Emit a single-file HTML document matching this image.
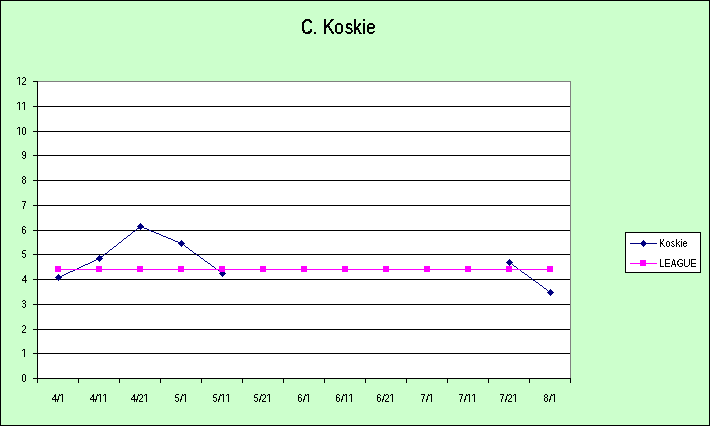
<!DOCTYPE html>
<html><head><meta charset="utf-8"><title>C. Koskie</title>
<style>
html,body{margin:0;padding:0;}
body{width:710px;height:426px;overflow:hidden;background:#ccffcc;font-family:"Liberation Sans",sans-serif;color:#000;position:relative;}
#chart{position:absolute;left:0;top:0;width:708px;height:424px;border:1px solid #000;background:#ccffcc;}
.abs{position:absolute;}
.lb{position:absolute;height:12px;font-size:10.67px;line-height:12px;white-space:nowrap;}
.lb span,#title span{position:absolute;top:0;transform-origin:0 0;}
#title{position:absolute;left:300px;top:15px;width:80px;height:24px;font-size:21.33px;line-height:24px;white-space:nowrap;}
#title span{transform:scaleX(0.82);filter:url(#thra);}
svg{position:absolute;left:0;top:0;}
.g0{transform:scaleX(0.72);filter:url(#thrb);}
.g1{transform:scaleX(1.0);filter:url(#thrd);clip-path:polygon(0 0,100% 0,100% 9px,4px 9px,4px 12px,3px 12px,3px 9px,0 9px);}
.g2{transform:scaleX(1.0);filter:url(#thrd);}
.g3{transform:scaleX(0.72);filter:url(#thrb);}
.g4{transform:scaleX(0.84);filter:url(#thrb);}
.g5{transform:scaleX(0.74);filter:url(#thrc);}
.g6{transform:scaleX(0.96);filter:url(#thrd);}
.g7{transform:scaleX(0.72);filter:url(#thrb);}
.g8{transform:scaleX(0.72);filter:url(#thrb);}
.g9{transform:scaleX(0.7);filter:url(#thrb);}
.gsl{transform:scaleX(0.96);filter:url(#thrb);}
.gK{transform:scaleX(0.88);filter:url(#thrd);}
.go{transform:scaleX(0.76);filter:url(#thrc);}
.gs{transform:scaleX(0.74);filter:url(#thrc);}
.gk{transform:scaleX(1.1);filter:url(#thrd);}
.gi{transform:scaleX(0.82);filter:url(#thrc);}
.ge{transform:scaleX(0.78);filter:url(#thrc);}
.gL{transform:scaleX(0.84);filter:url(#thrb);}
.gE{transform:scaleX(0.88);filter:url(#thra);}
.gA{transform:scaleX(0.74);filter:url(#thrc);}
.gG{transform:scaleX(0.82);filter:url(#thrb);}
.gU{transform:scaleX(0.96);filter:url(#thrd);}
</style></head><body>
<svg width="0" height="0"><defs><filter id="thra" x="0" y="0" width="100%" height="100%" color-interpolation-filters="sRGB"><feComponentTransfer><feFuncA type="discrete" tableValues="0 1 1 1"/></feComponentTransfer></filter><filter id="thrb" x="0" y="0" width="100%" height="100%" color-interpolation-filters="sRGB"><feComponentTransfer><feFuncA type="discrete" tableValues="0 1 1"/></feComponentTransfer></filter><filter id="thrc" x="0" y="0" width="100%" height="100%" color-interpolation-filters="sRGB"><feComponentTransfer><feFuncA type="discrete" tableValues="0 0 1 1 1"/></feComponentTransfer></filter><filter id="thrd" x="0" y="0" width="100%" height="100%" color-interpolation-filters="sRGB"><feComponentTransfer><feFuncA type="discrete" tableValues="0 1"/></feComponentTransfer></filter></defs></svg>
<div id="chart"></div>

<div class="abs" style="left:37px;top:81px;width:534px;height:298px;background:#808080;"></div>
<div class="abs" style="left:38px;top:82px;width:532px;height:296px;background:#fff;"></div>
<div class="abs" style="left:37px;top:353px;width:533px;height:1px;background:#000;"></div>
<div class="abs" style="left:37px;top:329px;width:533px;height:1px;background:#000;"></div>
<div class="abs" style="left:37px;top:304px;width:533px;height:1px;background:#000;"></div>
<div class="abs" style="left:37px;top:279px;width:533px;height:1px;background:#000;"></div>
<div class="abs" style="left:37px;top:254px;width:533px;height:1px;background:#000;"></div>
<div class="abs" style="left:37px;top:230px;width:533px;height:1px;background:#000;"></div>
<div class="abs" style="left:37px;top:205px;width:533px;height:1px;background:#000;"></div>
<div class="abs" style="left:37px;top:180px;width:533px;height:1px;background:#000;"></div>
<div class="abs" style="left:37px;top:155px;width:533px;height:1px;background:#000;"></div>
<div class="abs" style="left:37px;top:131px;width:533px;height:1px;background:#000;"></div>
<div class="abs" style="left:37px;top:106px;width:533px;height:1px;background:#000;"></div>
<div class="abs" style="left:37px;top:81px;width:1px;height:302px;background:#000;"></div>
<div class="abs" style="left:33px;top:378px;width:538px;height:1px;background:#000;"></div>
<div class="abs" style="left:33px;top:378px;width:4px;height:1px;background:#000;"></div>
<div class="lb" style="left:21px;top:372px;width:6px"><span class="g0" style="left:1px">0</span></div>
<div class="abs" style="left:33px;top:353px;width:4px;height:1px;background:#000;"></div>
<div class="lb" style="left:21px;top:347px;width:6px"><span class="g1" style="left:0px">1</span></div>
<div class="abs" style="left:33px;top:329px;width:4px;height:1px;background:#000;"></div>
<div class="lb" style="left:21px;top:323px;width:6px"><span class="g2" style="left:0px">2</span></div>
<div class="abs" style="left:33px;top:304px;width:4px;height:1px;background:#000;"></div>
<div class="lb" style="left:21px;top:298px;width:6px"><span class="g3" style="left:1px">3</span></div>
<div class="abs" style="left:33px;top:279px;width:4px;height:1px;background:#000;"></div>
<div class="lb" style="left:21px;top:273px;width:6px"><span class="g4" style="left:1px">4</span></div>
<div class="abs" style="left:33px;top:254px;width:4px;height:1px;background:#000;"></div>
<div class="lb" style="left:21px;top:248px;width:6px"><span class="g5" style="left:1px">5</span></div>
<div class="abs" style="left:33px;top:230px;width:4px;height:1px;background:#000;"></div>
<div class="lb" style="left:21px;top:224px;width:6px"><span class="g6" style="left:0px">6</span></div>
<div class="abs" style="left:33px;top:205px;width:4px;height:1px;background:#000;"></div>
<div class="lb" style="left:21px;top:199px;width:6px"><span class="g7" style="left:1px">7</span></div>
<div class="abs" style="left:33px;top:180px;width:4px;height:1px;background:#000;"></div>
<div class="lb" style="left:21px;top:174px;width:6px"><span class="g8" style="left:1px">8</span></div>
<div class="abs" style="left:33px;top:155px;width:4px;height:1px;background:#000;"></div>
<div class="lb" style="left:21px;top:149px;width:6px"><span class="g9" style="left:1px">9</span></div>
<div class="abs" style="left:33px;top:131px;width:4px;height:1px;background:#000;"></div>
<div class="lb" style="left:16px;top:125px;width:11px"><span class="g1" style="left:0px">1</span><span class="g0" style="left:6px">0</span></div>
<div class="abs" style="left:33px;top:106px;width:4px;height:1px;background:#000;"></div>
<div class="lb" style="left:16px;top:100px;width:11px"><span class="g1" style="left:0px">1</span><span class="g1" style="left:5px">1</span></div>
<div class="abs" style="left:33px;top:81px;width:4px;height:1px;background:#000;"></div>
<div class="lb" style="left:16px;top:75px;width:11px"><span class="g1" style="left:0px">1</span><span class="g2" style="left:5px">2</span></div>
<div class="abs" style="left:37px;top:378px;width:1px;height:5px;background:#000;"></div>
<div class="abs" style="left:78px;top:378px;width:1px;height:5px;background:#000;"></div>
<div class="abs" style="left:119px;top:378px;width:1px;height:5px;background:#000;"></div>
<div class="abs" style="left:160px;top:378px;width:1px;height:5px;background:#000;"></div>
<div class="abs" style="left:201px;top:378px;width:1px;height:5px;background:#000;"></div>
<div class="abs" style="left:242px;top:378px;width:1px;height:5px;background:#000;"></div>
<div class="abs" style="left:283px;top:378px;width:1px;height:5px;background:#000;"></div>
<div class="abs" style="left:324px;top:378px;width:1px;height:5px;background:#000;"></div>
<div class="abs" style="left:365px;top:378px;width:1px;height:5px;background:#000;"></div>
<div class="abs" style="left:406px;top:378px;width:1px;height:5px;background:#000;"></div>
<div class="abs" style="left:447px;top:378px;width:1px;height:5px;background:#000;"></div>
<div class="abs" style="left:488px;top:378px;width:1px;height:5px;background:#000;"></div>
<div class="abs" style="left:529px;top:378px;width:1px;height:5px;background:#000;"></div>
<div class="abs" style="left:570px;top:378px;width:1px;height:5px;background:#000;"></div>
<div class="lb" style="left:51px;top:392px;width:14px"><span class="g4" style="left:1px">4</span><span class="gsl" style="left:6px">/</span><span class="g1" style="left:8px">1</span></div>
<div class="lb" style="left:89px;top:392px;width:19px"><span class="g4" style="left:1px">4</span><span class="gsl" style="left:6px">/</span><span class="g1" style="left:8px">1</span><span class="g1" style="left:13px">1</span></div>
<div class="lb" style="left:130px;top:392px;width:19px"><span class="g4" style="left:1px">4</span><span class="gsl" style="left:6px">/</span><span class="g2" style="left:8px">2</span><span class="g1" style="left:13px">1</span></div>
<div class="lb" style="left:174px;top:392px;width:14px"><span class="g5" style="left:1px">5</span><span class="gsl" style="left:6px">/</span><span class="g1" style="left:8px">1</span></div>
<div class="lb" style="left:212px;top:392px;width:19px"><span class="g5" style="left:1px">5</span><span class="gsl" style="left:6px">/</span><span class="g1" style="left:8px">1</span><span class="g1" style="left:13px">1</span></div>
<div class="lb" style="left:253px;top:392px;width:19px"><span class="g5" style="left:1px">5</span><span class="gsl" style="left:6px">/</span><span class="g2" style="left:8px">2</span><span class="g1" style="left:13px">1</span></div>
<div class="lb" style="left:297px;top:392px;width:14px"><span class="g6" style="left:0px">6</span><span class="gsl" style="left:6px">/</span><span class="g1" style="left:8px">1</span></div>
<div class="lb" style="left:335px;top:392px;width:19px"><span class="g6" style="left:0px">6</span><span class="gsl" style="left:6px">/</span><span class="g1" style="left:8px">1</span><span class="g1" style="left:13px">1</span></div>
<div class="lb" style="left:376px;top:392px;width:19px"><span class="g6" style="left:0px">6</span><span class="gsl" style="left:6px">/</span><span class="g2" style="left:8px">2</span><span class="g1" style="left:13px">1</span></div>
<div class="lb" style="left:420px;top:392px;width:14px"><span class="g7" style="left:1px">7</span><span class="gsl" style="left:6px">/</span><span class="g1" style="left:8px">1</span></div>
<div class="lb" style="left:458px;top:392px;width:19px"><span class="g7" style="left:1px">7</span><span class="gsl" style="left:6px">/</span><span class="g1" style="left:8px">1</span><span class="g1" style="left:13px">1</span></div>
<div class="lb" style="left:499px;top:392px;width:19px"><span class="g7" style="left:1px">7</span><span class="gsl" style="left:6px">/</span><span class="g2" style="left:8px">2</span><span class="g1" style="left:13px">1</span></div>
<div class="lb" style="left:543px;top:392px;width:14px"><span class="g8" style="left:1px">8</span><span class="gsl" style="left:6px">/</span><span class="g1" style="left:8px">1</span></div>
<svg width="710" height="426" viewBox="0 0 710 426" shape-rendering="crispEdges">
<path d="M58 277h2v1h-2zM60 276h2v1h-2zM62 275h2v1h-2zM64 274h2v1h-2zM66 273h2v1h-2zM68 272h2v1h-2zM70 271h3v1h-3zM73 270h2v1h-2zM75 269h2v1h-2zM77 268h2v1h-2zM79 267h2v1h-2zM81 266h2v1h-2zM83 265h2v1h-2zM85 264h3v1h-3zM88 263h2v1h-2zM90 262h2v1h-2zM92 261h2v1h-2zM94 260h2v1h-2zM96 259h2v1h-2zM98 258h2v1h-2zM99 258h1v1h-1zM100 257h1v1h-1zM101 256h2v1h-2zM103 255h1v1h-1zM104 254h1v1h-1zM105 253h2v1h-2zM107 252h1v1h-1zM108 251h1v1h-1zM109 250h1v1h-1zM110 249h2v1h-2zM112 248h1v1h-1zM113 247h1v1h-1zM114 246h2v1h-2zM116 245h1v1h-1zM117 244h1v1h-1zM118 243h1v1h-1zM119 242h2v1h-2zM121 241h1v1h-1zM122 240h1v1h-1zM123 239h1v1h-1zM124 238h2v1h-2zM126 237h1v1h-1zM127 236h1v1h-1zM128 235h2v1h-2zM130 234h1v1h-1zM131 233h1v1h-1zM132 232h1v1h-1zM133 231h2v1h-2zM135 230h1v1h-1zM136 229h1v1h-1zM137 228h2v1h-2zM139 227h1v1h-1zM140 226h1v1h-1zM140 226h2v1h-2zM142 227h2v1h-2zM144 228h3v1h-3zM147 229h2v1h-2zM149 230h2v1h-2zM151 231h3v1h-3zM154 232h2v1h-2zM156 233h3v1h-3zM159 234h2v1h-2zM161 235h2v1h-2zM163 236h3v1h-3zM166 237h2v1h-2zM168 238h3v1h-3zM171 239h2v1h-2zM173 240h2v1h-2zM175 241h3v1h-3zM178 242h2v1h-2zM180 243h2v1h-2zM181 243h1v1h-1zM182 244h2v1h-2zM184 245h1v1h-1zM185 246h1v1h-1zM186 247h2v1h-2zM188 248h1v1h-1zM189 249h1v1h-1zM190 250h2v1h-2zM192 251h1v1h-1zM193 252h1v1h-1zM194 253h2v1h-2zM196 254h1v1h-1zM197 255h2v1h-2zM199 256h1v1h-1zM200 257h1v1h-1zM201 258h2v1h-2zM203 259h1v1h-1zM204 260h1v1h-1zM205 261h2v1h-2zM207 262h1v1h-1zM208 263h2v1h-2zM210 264h1v1h-1zM211 265h1v1h-1zM212 266h2v1h-2zM214 267h1v1h-1zM215 268h1v1h-1zM216 269h2v1h-2zM218 270h1v1h-1zM219 271h1v1h-1zM220 272h2v1h-2zM222 273h1v1h-1zM509 262h1v1h-1zM510 263h2v1h-2zM512 264h1v1h-1zM513 265h1v1h-1zM514 266h2v1h-2zM516 267h1v1h-1zM517 268h1v1h-1zM518 269h2v1h-2zM520 270h1v1h-1zM521 271h1v1h-1zM522 272h2v1h-2zM524 273h1v1h-1zM525 274h2v1h-2zM527 275h1v1h-1zM528 276h1v1h-1zM529 277h2v1h-2zM531 278h1v1h-1zM532 279h1v1h-1zM533 280h2v1h-2zM535 281h1v1h-1zM536 282h2v1h-2zM538 283h1v1h-1zM539 284h1v1h-1zM540 285h2v1h-2zM542 286h1v1h-1zM543 287h1v1h-1zM544 288h2v1h-2zM546 289h1v1h-1zM547 290h1v1h-1zM548 291h2v1h-2zM550 292h1v1h-1z" fill="#000080"/>
<polygon points="58.5,274 62,277.5 58.5,281 55,277.5" fill="#000080"/>
<polygon points="99.5,255 103,258.5 99.5,262 96,258.5" fill="#000080"/>
<polygon points="140.5,223 144,226.5 140.5,230 137,226.5" fill="#000080"/>
<polygon points="181.5,240 185,243.5 181.5,247 178,243.5" fill="#000080"/>
<polygon points="222.5,270 226,273.5 222.5,277 219,273.5" fill="#000080"/>
<polygon points="509.5,259 513,262.5 509.5,266 506,262.5" fill="#000080"/>
<polygon points="550.5,289 554,292.5 550.5,296 547,292.5" fill="#000080"/>
<line x1="58" y1="269.5" x2="550" y2="269.5" stroke="#ff00ff" stroke-width="1"/>
<rect x="55" y="266" width="6" height="6" fill="#ff00ff"/>
<rect x="96" y="266" width="6" height="6" fill="#ff00ff"/>
<rect x="137" y="266" width="6" height="6" fill="#ff00ff"/>
<rect x="178" y="266" width="6" height="6" fill="#ff00ff"/>
<rect x="219" y="266" width="6" height="6" fill="#ff00ff"/>
<rect x="260" y="266" width="6" height="6" fill="#ff00ff"/>
<rect x="301" y="266" width="6" height="6" fill="#ff00ff"/>
<rect x="342" y="266" width="6" height="6" fill="#ff00ff"/>
<rect x="383" y="266" width="6" height="6" fill="#ff00ff"/>
<rect x="424" y="266" width="6" height="6" fill="#ff00ff"/>
<rect x="465" y="266" width="6" height="6" fill="#ff00ff"/>
<rect x="506" y="266" width="6" height="6" fill="#ff00ff"/>
<rect x="547" y="266" width="6" height="6" fill="#ff00ff"/>
</svg>
<div id="title"><span style="left:1.2px;transform:scaleX(0.76)">C</span><span style="left:12px;transform:scaleX(0.95);filter:url(#thrc)">. </span><span style="left:22.6px;">K</span><span style="left:34.4px;transform-origin:0 19px;transform:scale(0.82,0.92)">o</span><span style="left:44.5px;transform-origin:0 19px;transform:scale(0.76,0.92)">s</span><span style="left:52.6px;transform-origin:0 19px;transform:scale(0.82,0.92)">k</span><span style="left:62.2px;transform-origin:0 19px;transform:scale(0.82,0.92)">i</span><span style="left:66.3px;transform-origin:0 19px;transform:scale(0.82,0.92)">e</span></div>
<div class="abs" style="left:625px;top:232px;width:74px;height:39px;border:1px solid #000;background:#fff;"></div>
<svg width="710" height="426" viewBox="0 0 710 426" shape-rendering="crispEdges"><line x1="630" y1="243.5" x2="657" y2="243.5" stroke="#000080"/><polygon points="643.5,240 647,243.5 643.5,247 640,243.5" fill="#000080"/><line x1="630" y1="263.5" x2="657" y2="263.5" stroke="#ff00ff"/><rect x="640" y="260" width="6" height="6" fill="#ff00ff"/></svg>
<div class="lb" style="left:659px;top:237px;width:30px"><span class="gK" style="left:0px">K</span><span class="go" style="left:7px">o</span><span class="gs" style="left:12px">s</span><span class="gk" style="left:16px">k</span><span class="gi" style="left:22px">i</span><span class="ge" style="left:24px">e</span></div>
<div class="lb" style="left:659px;top:257px;width:38px"><span class="gL" style="left:0px">L</span><span class="gE" style="left:5px">E</span><span class="gA" style="left:12px">A</span><span class="gG" style="left:18px">G</span><span class="gU" style="left:24px">U</span><span class="gE" style="left:31px">E</span></div>
</body></html>
